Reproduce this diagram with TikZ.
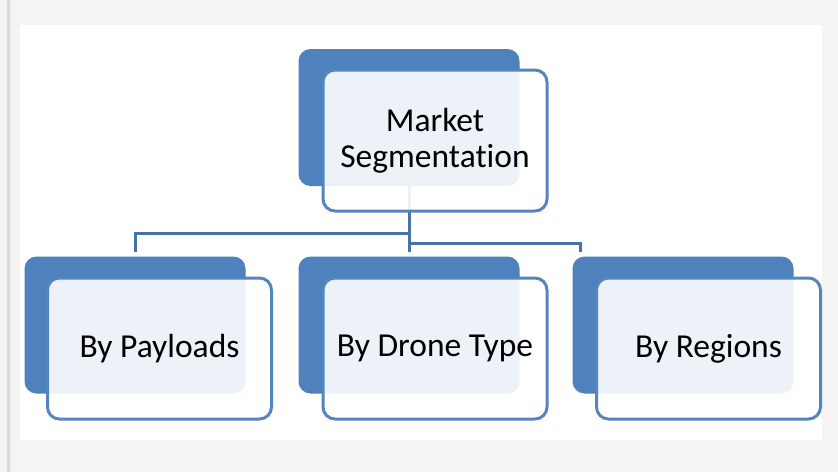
\documentclass[tikz,border=0pt]{standalone}
\usepackage{fontspec}
\setmainfont[Ligatures=NoCommon]{Carlito}
\usetikzlibrary{positioning}
\definecolor{BackClr}{HTML}{4F81BD}
\definecolor{EdgeClr}{HTML}{5585BF}
\definecolor{LinkClr}{HTML}{4672A8}
\definecolor{PageClr}{HTML}{F4F4F4}
\definecolor{RuleClr}{HTML}{DADADA}

\tikzset{
  backbox/.style={rectangle,rounded corners=12pt,fill=BackClr,inner sep=0pt,
    minimum width=221pt,minimum height=137pt},
  frontbox/.style={rectangle,rounded corners=12pt,draw=EdgeClr,line width=3pt,
    fill=white,fill opacity=.9,text opacity=1,inner sep=0pt,align=center,
    minimum width=224pt,minimum height=141pt,
    font=\fontsize{33.5}{36}\selectfont,text=black},
  link/.style={draw=LinkClr,line width=3pt}
}

\begin{document}
\begin{tikzpicture}[x=1pt,y=-1pt]
\useasboundingbox (0,0) rectangle (838,472);
\fill[PageClr] (0,0) rectangle (838,472);
\fill[RuleClr] (7,0) rectangle (9.5,472);
\fill[white] (20,25) rectangle (822,440);

% back plates
\node[backbox] (segBack) at (409,117.5) {};
\node[backbox] (payBack) at (135,325) {};
\node[backbox] (droneBack) at (409,325) {};
\node[backbox] (regBack) at (683,325) {};

% connectors
\coordinate (split) at (409,233);
\coordinate (regEnd) at (580,252);
\draw[link] (segBack.south) -- (droneBack.north|-0,252);
\draw[link] (split) -| (payBack.north|-0,252);
\draw[link] (409,243) -| (regEnd);

% front boxes
\node[frontbox] (seg) at (435,140.5) {Market\\Segmentation};
\node[frontbox] (pay) at (159.5,348.5) {By Payloads};
\node[frontbox] (drone) at (435,348.5) {By Drone Type};
\node[frontbox] (reg) at (708.5,348.5) {By Regions};

\end{tikzpicture}
\end{document}
